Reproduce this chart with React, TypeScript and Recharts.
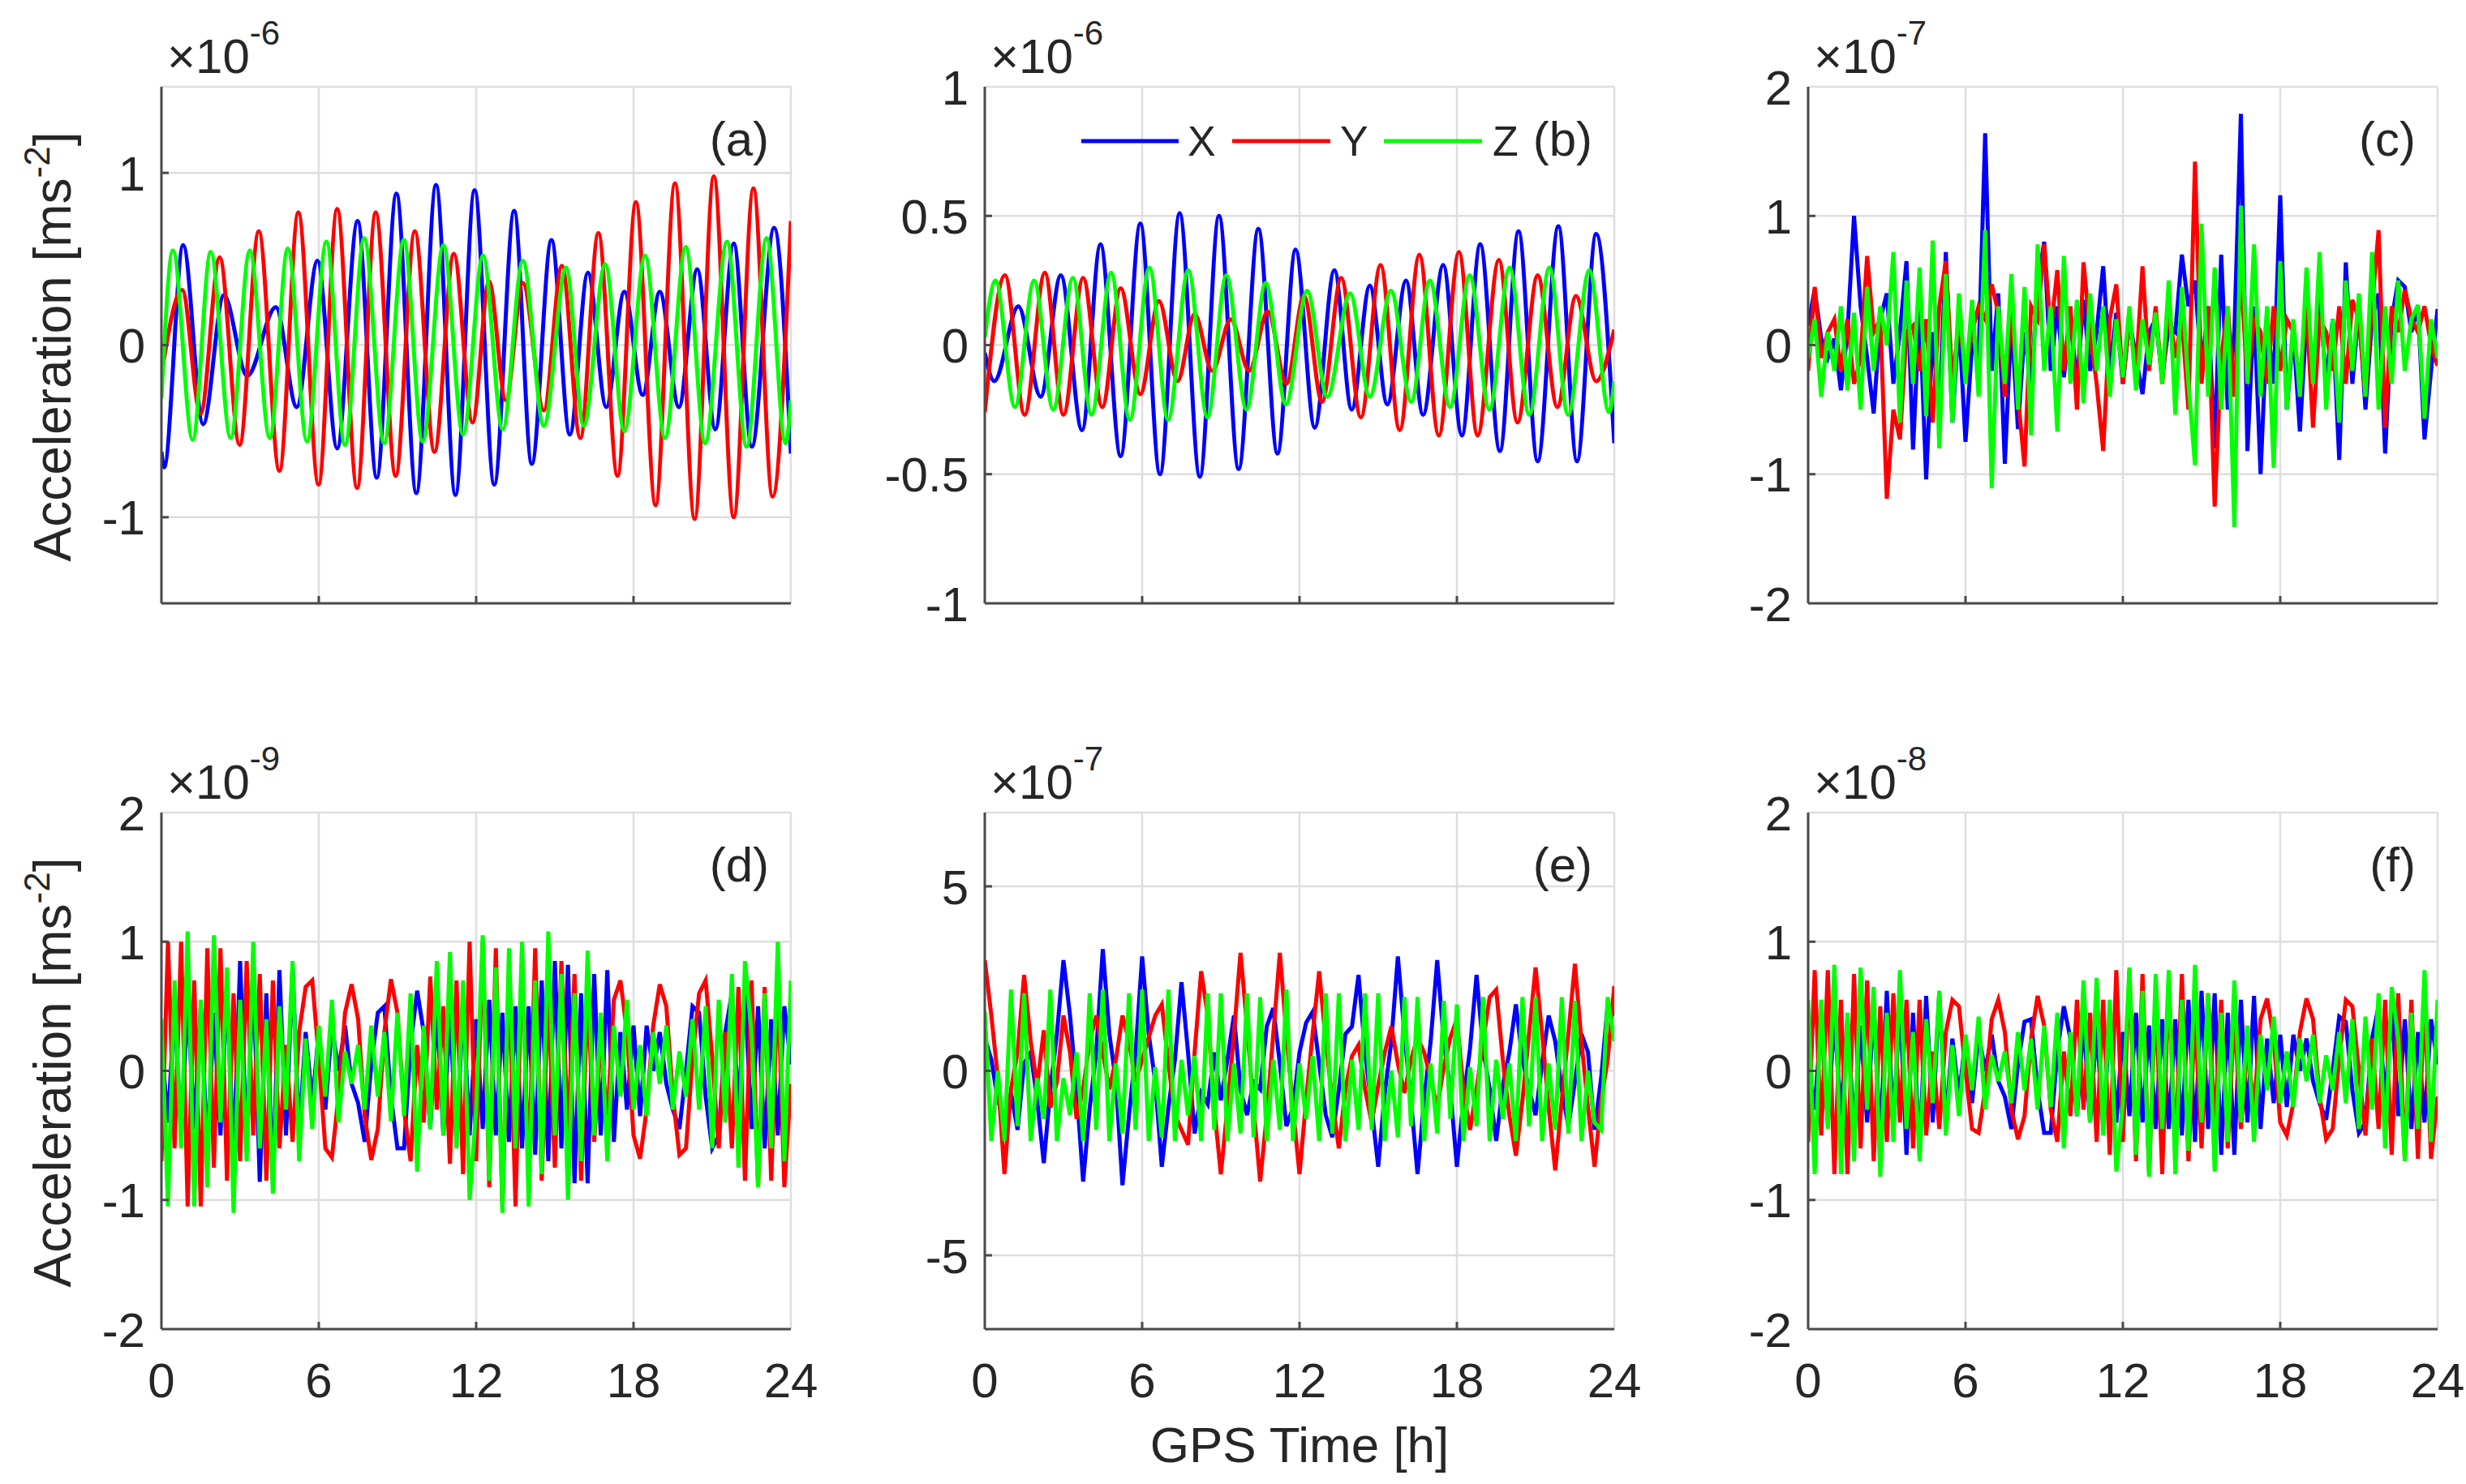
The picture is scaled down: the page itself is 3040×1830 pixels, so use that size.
import React from 'react';
import { LineChart, Line, XAxis, YAxis, CartesianGrid } from 'recharts';

const FONT = '"Liberation Sans", Arial, Helvetica, sans-serif';
const INK = '#262626';
const AXIS = '#4a4a4a';
const GRID = '#dedede';
const COLOR_X = '#0000ff';
const COLOR_Y = '#ff0000';
const COLOR_Z = '#00ff00';

// sampling times (hours) for the densely sampled panels c-f
const HOURS = Array.from({ length: 97 }, (_, i) => i / 4);
const X_TICKS = [0, 6, 12, 18, 24];

// ---------- panel (a) : x1e-6, [hour, value] at extrema ----------
const A_X: [number, number][] = [[0,-0.62],[0.1,-0.71],[0.83,0.58],[1.59,-0.46],[2.38,0.29],[3.27,-0.18],[4.36,0.22],[5.16,-0.36],[5.95,0.49],[6.7,-0.6],[7.48,0.72],[8.21,-0.77],[8.96,0.88],[9.72,-0.86],[10.47,0.93],[11.21,-0.87],[11.94,0.9],[12.69,-0.81],[13.45,0.78],[14.12,-0.69],[14.87,0.61],[15.57,-0.52],[16.26,0.42],[16.96,-0.36],[17.65,0.31],[18.35,-0.29],[19.0,0.31],[19.73,-0.36],[20.43,0.44],[21.12,-0.49],[21.82,0.59],[22.51,-0.59],[23.36,0.68],[24,-0.63]];
const A_Y: [number, number][] = [[0,-0.17],[0.79,0.32],[1.49,-0.4],[2.22,0.51],[2.98,-0.58],[3.71,0.66],[4.5,-0.73],[5.22,0.77],[5.99,-0.81],[6.7,0.79],[7.46,-0.83],[8.17,0.77],[8.93,-0.76],[9.66,0.66],[10.41,-0.62],[11.15,0.53],[11.86,-0.45],[12.49,0.37],[13.13,-0.32],[13.78,0.36],[14.58,-0.38],[15.27,0.46],[15.97,-0.54],[16.66,0.65],[17.39,-0.76],[18.09,0.83],[18.84,-0.93],[19.58,0.94],[20.33,-1.01],[21.06,0.98],[21.82,-1.0],[22.57,0.91],[23.3,-0.88],[24,0.72]];
const A_Z: [number, number][] = [[0,-0.31],[0.44,0.55],[1.19,-0.55],[1.88,0.54],[2.64,-0.54],[3.37,0.55],[4.13,-0.54],[4.82,0.56],[5.55,-0.56],[6.29,0.6],[7.0,-0.58],[7.73,0.62],[8.49,-0.57],[9.24,0.61],[9.96,-0.56],[10.75,0.58],[11.5,-0.52],[12.26,0.52],[13.01,-0.49],[13.78,0.49],[14.58,-0.47],[15.43,0.45],[16.1,-0.47],[16.92,0.47],[17.65,-0.5],[18.44,0.52],[19.2,-0.54],[19.99,0.57],[20.73,-0.57],[21.56,0.6],[22.31,-0.59],[23.07,0.62],[23.8,-0.57],[24,-0.32]];

// ---------- panel (b) : x1e-6 ----------
const B_X: [number, number][] = [[0,-0.03],[0.36,-0.14],[1.28,0.15],[2.13,-0.2],[2.9,0.27],[3.71,-0.33],[4.41,0.39],[5.18,-0.43],[5.93,0.47],[6.68,-0.5],[7.43,0.51],[8.2,-0.51],[8.93,0.5],[9.68,-0.48],[10.43,0.45],[11.16,-0.42],[11.85,0.37],[12.58,-0.32],[13.33,0.29],[13.99,-0.25],[14.68,0.23],[15.35,-0.23],[16.06,0.25],[16.71,-0.27],[17.48,0.31],[18.19,-0.35],[18.89,0.39],[19.64,-0.41],[20.35,0.44],[21.08,-0.45],[21.87,0.46],[22.58,-0.45],[23.31,0.43],[24,-0.38]];
const B_Y: [number, number][] = [[0,-0.26],[0.77,0.27],[1.52,-0.27],[2.29,0.28],[3.0,-0.27],[3.75,0.26],[4.48,-0.24],[5.18,0.22],[5.93,-0.19],[6.64,0.17],[7.35,-0.14],[8.0,0.12],[8.67,-0.1],[9.38,0.1],[10.08,-0.1],[10.79,0.13],[11.5,-0.15],[12.17,0.19],[12.86,-0.22],[13.59,0.26],[14.34,-0.28],[15.09,0.31],[15.82,-0.33],[16.57,0.35],[17.31,-0.35],[18.08,0.36],[18.79,-0.35],[19.6,0.33],[20.31,-0.3],[21.08,0.27],[21.83,-0.24],[22.54,0.19],[23.31,-0.14],[24,0.06]];
const B_Z: [number, number][] = [[0,0.03],[0.41,0.25],[1.15,-0.24],[1.88,0.25],[2.61,-0.25],[3.36,0.26],[4.07,-0.27],[4.82,0.28],[5.53,-0.29],[6.28,0.3],[6.99,-0.29],[7.76,0.29],[8.49,-0.28],[9.21,0.27],[9.98,-0.25],[10.71,0.24],[11.48,-0.23],[12.29,0.21],[13.06,-0.2],[13.93,0.2],[14.68,-0.2],[15.49,0.21],[16.26,-0.22],[16.97,0.25],[17.74,-0.24],[18.49,0.27],[19.24,-0.25],[20.01,0.3],[20.76,-0.27],[21.53,0.3],[22.24,-0.27],[23.05,0.29],[23.8,-0.26],[24,-0.14]];

// ---------- panel (c) : x1e-7, one value every 15 min ----------
const C_X = [
  0.15, 0.43, 0.05, -0.1, 0.05, -0.35, 0.1, 1.0,
  0.3, -0.1, -0.53, 0.2, 0.4, -0.3, 0.1, 0.65,
  -0.81, 0.3, -1.04, 0.1, -0.55, 0.72, -0.6, 0.2,
  -0.75, 0.0, -0.1, 1.64, -0.2, 0.4, -0.92, 0.2,
  -0.65, 0.1, -0.3, 0.45, 0.8, -0.2, 0.3, -0.25,
  0.2, -0.3, 0.35, -0.2, 0.1, 0.61, -0.2, 0.25,
  -0.3, 0.2, -0.1, -0.38, 0.1, 0.2, -0.25, 0.15,
  0.1, 0.7, 0.3, 0.5, -0.2, 0.3, -0.8, 0.7,
  -0.5, 0.1, 1.79, -0.82, 0.3, -1.0, 0.2, -0.3,
  1.16, -0.5, 0.1, -0.67, 0.2, -0.2, 0.4, -0.3,
  0.2, -0.89, 0.64, -0.3, 0.3, -0.5, 0.2, 0.4,
  -0.84, 0.2, 0.5, 0.45, 0.1, 0.3, -0.73, -0.2,
  0.28,
];
const C_Y = [
  -0.2, 0.45, -0.1, 0.1, 0.2, -0.2, 0.2, -0.3,
  -0.1, 0.69, 0.1, 0.2, -1.19, -0.5, -0.73, 0.1,
  0.15, -0.2, 0.2, -0.6, 0.3, 0.65, -0.3, 0.2,
  -0.2, 0.1, 0.3, 0.2, 0.47, 0.25, -0.4, 0.3,
  -0.4, -0.94, 0.3, 0.2, 0.78, 0.1, 0.58, -0.2,
  0.3, -0.5, 0.64, 0.1, -0.3, -0.82, 0.2, 0.47,
  -0.3, 0.2, -0.2, 0.61, -0.2, 0.3, -0.3, 0.3,
  -0.1, 0.2, -0.5, 1.42, -0.3, 0.3, -1.25, -0.1,
  0.3, -0.4, 0.56, -0.3, 0.2, 0.1, -0.3, 0.3,
  -0.2, 0.2, 0.1, -0.3, 0.3, -0.64, 0.2, 0.1,
  -0.2, 0.3, -0.3, 0.35, 0.2, -0.4, 0.3, 0.89,
  -0.64, 0.3, 0.1, 0.43, 0.2, 0.1, 0.3, 0.0,
  -0.16,
];
const C_Z = [
  -0.1, 0.2, -0.4, 0.1, -0.2, 0.3, -0.35, 0.25,
  -0.5, 0.45, -0.2, 0.3, 0.0, 0.72, -0.6, 0.5,
  -0.3, 0.6, -0.55, 0.81, -0.8, 0.55, -0.6, 0.4,
  -0.3, 0.35, -0.4, 0.89, -1.11, 0.3, -0.3, 0.55,
  -0.5, 0.45, -0.7, 0.78, -0.2, 0.3, -0.67, 0.69,
  -0.3, 0.35, -0.45, 0.4, -0.2, 0.3, -0.4, 0.2,
  -0.25, 0.3, -0.35, 0.2, -0.15, 0.25, -0.3, 0.5,
  -0.54, 0.45, -0.3, -0.93, 0.94, -0.4, 0.6, -0.5,
  0.3, -1.41, 1.08, -0.3, 0.78, -0.4, 0.3, -0.95,
  0.65, -0.5, 0.2, -0.4, 0.6, -0.3, 0.72, -0.5,
  0.2, -0.6, 0.5, -0.2, 0.4, -0.4, 0.72, -0.5,
  0.3, -0.3, 0.5, -0.2, 0.2, 0.31, -0.57, 0.2,
  -0.1,
];

// ---------- panel (d) : x1e-9 ----------
const D_X = [
  0.2, -0.4, 0.5, -0.5, 0.55, -0.45, 0.5, -0.6,
  0.45, -0.5, 0.65, -0.7, 0.85, -0.6, 0.75, -0.86,
  0.6, -0.88, 0.78, -0.5, 0.8, -0.5, 0.3, -0.25,
  0.3, -0.3, 0.35, 0.0, 0.35, -0.1, -0.25, -0.55,
  0.05, 0.45, 0.5, -0.2, -0.6, -0.6, 0.2, 0.62,
  0.3, -0.45, 0.5, -0.5, 0.45, -0.55, 0.5, -0.5,
  0.4, -0.45, 0.55, -0.5, 0.45, -0.55, 0.5, -0.6,
  0.5, -0.65, 0.7, -0.7, 0.85, -0.6, 0.82, -0.87,
  0.6, -0.87, 0.75, -0.5, 0.78, -0.55, 0.3, -0.3,
  0.35, -0.35, 0.35, 0.0, 0.3, -0.1, -0.3, -0.45,
  0.0, 0.5, 0.45, -0.2, -0.6, -0.5, 0.3, 0.6,
  -0.3, 0.6, -0.45, 0.5, -0.6, 0.4, -0.5, 0.5,
  0.05,
];
const D_Y = [
  -0.7, 1.0, -0.6, 1.0, -1.05, 0.7, -1.05, 0.95,
  -0.75, 0.95, -0.85, 0.6, -0.7, 0.85, -0.5, 0.75,
  -0.85, 0.7, -0.6, 0.2, -0.55, 0.3, 0.65, 0.7,
  0.1, -0.6, -0.67, -0.2, 0.45, 0.67, 0.4, -0.35,
  -0.69, -0.45, 0.3, 0.71, 0.45, -0.3, -0.7, 0.2,
  -0.4, 0.73, -0.3, 0.5, -0.72, 0.7, -0.8, 1.0,
  -0.7, 1.0, -0.9, 0.95, -1.05, 0.75, -1.05, 0.9,
  -0.8, 0.95, -0.85, 0.6, -0.75, 0.85, -0.5, 0.75,
  -0.85, 0.6, -0.55, 0.25, -0.4, 0.55, 0.7, 0.3,
  -0.5, -0.68, -0.3, 0.35, 0.67, 0.5, -0.2, -0.65,
  -0.6, 0.1, 0.6, 0.7, 0.1, -0.6, 0.3, -0.6,
  0.65, -0.85, 0.7, -0.9, 0.65, -0.85, 0.7, -0.9,
  -0.1,
];
const D_Z = [
  0.4, -1.05, 0.7, -0.6, 1.08, -1.05, 0.55, -0.9,
  1.05, -0.4, 0.8, -1.1, 0.55, -0.7, 1.0, -0.6,
  0.4, -0.95, 0.5, -0.3, 0.85, -0.7, 0.25, -0.45,
  0.35, -0.2, 0.55, -0.4, 0.15, -0.1, 0.2, -0.3,
  0.35, -0.2, 0.3, -0.39, 0.45, -0.35, 0.6, -0.78,
  0.35, -0.45, 0.85, -0.5, 0.92, -0.6, 0.7, -1.0,
  -0.3, 1.05, -0.85, 0.8, -1.1, 0.95, -0.6, 1.0,
  -1.05, 0.7, -0.8, 1.08, -0.5, 0.75, -1.0, 0.6,
  -0.7, 0.93, -0.5, 0.45, -0.7, 0.35, -0.2, 0.55,
  -0.3, 0.2, -0.35, 0.3, -0.1, 0.35, -0.3, 0.15,
  -0.2, 0.4, -0.3, 0.5, -0.6, 0.55, -0.4, 0.75,
  -0.75, 0.85, 0.3, -0.9, 0.6, -0.6, 1.0, -0.7,
  0.7,
];

// ---------- panel (e) : x1e-7 ----------
const E_X = [
  0.9, 0.3, -0.8, -1.3, -0.6, -1.6, 0.2, 0.5,
  -0.8, -2.5, -0.5, 1.0, 3.0, 1.5, -0.5, -3.0,
  -1.0, 0.5, 3.3, 1.0, -0.3, -3.1, -1.2, 0.5,
  3.1, 1.0, -0.3, -2.6, -1.0, 0.3, 2.4, 0.5,
  -1.7, -0.6, -0.9, 0.5, -0.8, 0.3, 1.5, -0.5,
  -1.2, -0.3, -0.5, 1.2, 1.7, 0.2, -1.5, -1.0,
  0.5, 1.3, 1.6, 0.2, -1.2, -1.8, -0.5, 1.0,
  1.2, 2.6, 0.5, -1.0, -2.6, -0.6, 0.8, 3.1,
  1.0, -0.8, -2.8, -0.8, 0.8, 3.0, 0.8, -0.5,
  -2.6, -0.8, 0.6, 2.6, 0.6, -0.5, -1.9, -0.4,
  0.5, 1.8, 0.3, -0.5, -1.2, 0.2, 1.5, 0.8,
  -0.5, -1.5, -0.3, 1.0, 0.5, -1.6, -0.2, 1.8,
  1.5,
];
const E_Y = [
  3.0, 1.5, -0.2, -2.8, -0.5, 0.5, 2.6, 0.8,
  -0.4, 1.1, -1.0, -0.3, 1.5, 0.5, -1.3, -0.5,
  0.8, 1.5, 0.5, -0.5, 0.3, 1.5, 0.8, -0.3,
  0.3, 0.9, 1.5, 1.8, 0.2, -1.2, -1.6, -2.0,
  0.5, 2.7, 1.5, -1.0, -2.8, -1.0, 1.0, 3.2,
  1.2, -1.0, -3.0, -1.2, 1.0, 3.2, 1.0, -1.0,
  -2.8, -0.8, 1.0, 2.7, 0.8, -0.8, -2.1, -0.5,
  0.4, 0.7, -0.5, -1.4, -0.4, 0.5, 1.2, 0.2,
  -0.6, 0.3, 0.9, 0.5, -0.2, -1.0, 0.1, 0.9,
  1.4, -0.5, -1.6, -0.5, 0.8, 2.0, 2.2, 0.3,
  -1.2, -2.3, -0.8, 1.0, 2.8, 1.0, -1.0, -2.7,
  -0.8, 1.0, 2.9, 0.8, -1.0, -2.6, -0.8, 0.3,
  2.3,
];
const E_Z = [
  1.6, -1.9, 0.0, -1.9, 2.2, -1.5, 2.1, -1.9,
  -0.2, -1.3, 2.2, -1.9, -0.2, -1.2, 0.5, -1.9,
  2.1, -1.6, 2.2, -1.9, 0.2, -1.7, 2.1, -1.6,
  2.2, -1.9, 0.1, -1.8, 2.2, -1.9, 0.3, -1.2,
  0.4, -1.9, 2.1, -1.6, 2.1, -1.9, 0.2, -1.7,
  2.1, -1.8, 2.0, -1.9, 0.3, -1.6, 2.2, -1.9,
  0.2, -1.3, 0.4, -1.9, 2.1, -1.7, 2.1, -1.9,
  0.3, -1.6, 2.1, -1.6, 2.1, -1.9, 0.0, -1.8,
  2.0, -1.5, 2.0, -1.9, 0.2, -1.7, 1.9, -1.3,
  1.8, -1.9, 0.1, -1.5, 2.0, -1.9, 0.3, -1.3,
  0.2, -1.9, 2.0, -1.5, 2.0, -1.9, 0.2, -1.6,
  2.0, -1.7, 1.9, -1.9, 0.0, -1.4, -1.6, 2.0,
  0.8,
];

// ---------- panel (f) : x1e-8 ----------
const F_X = [
  0.05, -0.3, 0.4, -0.4, 0.42, -0.35, 0.4, -0.45,
  0.35, -0.4, 0.5, -0.55, 0.62, -0.45, 0.55, -0.65,
  0.45, -0.65, 0.58, -0.4, 0.6, -0.4, 0.25, -0.2,
  0.25, -0.25, 0.28, 0.0, 0.28, -0.08, -0.2, -0.45,
  0.05, 0.38, 0.4, -0.15, -0.48, -0.48, 0.15, 0.5,
  0.25, -0.35, 0.4, -0.4, 0.35, -0.45, 0.4, -0.4,
  0.3, -0.35, 0.45, -0.4, 0.35, -0.45, 0.4, -0.45,
  0.4, -0.5, 0.55, -0.55, 0.62, -0.45, 0.6, -0.65,
  0.45, -0.65, 0.55, -0.4, 0.58, -0.45, 0.25, -0.25,
  0.28, -0.28, 0.28, 0.0, 0.25, -0.08, -0.25, -0.38,
  0.0, 0.42, 0.38, -0.15, -0.48, -0.4, 0.25, 0.5,
  -0.25, 0.5, -0.35, 0.4, -0.45, 0.3, -0.4, 0.4,
  0.05,
];
const F_Y = [
  -0.55, 0.78, -0.5, 0.78, -0.8, 0.55, -0.8, 0.75,
  -0.6, 0.7, -0.7, 0.5, -0.55, 0.6, -0.4, 0.55,
  -0.6, 0.55, -0.5, 0.15, -0.45, 0.3, 0.55, 0.5,
  0.0, -0.45, -0.48, -0.15, 0.4, 0.55, 0.3, -0.3,
  -0.53, -0.35, 0.25, 0.58, 0.35, -0.3, -0.55, 0.15,
  -0.35, 0.55, -0.3, 0.45, -0.55, 0.55, -0.65, 0.78,
  -0.55, 0.78, -0.7, 0.75, -0.8, 0.6, -0.8, 0.7,
  -0.65, 0.75, -0.7, 0.45, -0.6, 0.6, -0.45, 0.55,
  -0.6, 0.45, -0.45, 0.2, -0.3, 0.4, 0.56, 0.25,
  -0.4, -0.5, -0.25, 0.3, 0.56, 0.4, -0.2, -0.53,
  -0.45, 0.1, 0.55, 0.5, 0.0, -0.5, 0.25, -0.45,
  0.55, -0.65, 0.6, -0.7, 0.55, -0.68, 0.55, -0.68,
  -0.2,
];
const F_Z = [
  0.55, -0.8, 0.55, -0.45, 0.82, -0.8, 0.45, -0.7,
  0.8, -0.3, 0.65, -0.82, 0.45, -0.55, 0.78, -0.45,
  0.3, -0.7, 0.4, -0.25, 0.62, -0.5, 0.2, -0.35,
  0.28, -0.15, 0.42, -0.3, 0.12, -0.08, 0.15, -0.25,
  0.3, -0.15, 0.25, -0.3, 0.35, -0.28, 0.45, -0.6,
  0.3, -0.35, 0.7, -0.4, 0.72, -0.5, 0.55, -0.78,
  -0.25, 0.8, -0.65, 0.62, -0.82, 0.75, -0.45, 0.78,
  -0.8, 0.55, -0.62, 0.82, -0.4, 0.6, -0.78, 0.45,
  -0.55, 0.7, -0.4, 0.35, -0.55, 0.28, -0.15, 0.42,
  -0.25, 0.15, -0.28, 0.25, -0.08, 0.28, -0.25, 0.12,
  -0.15, 0.3, -0.25, 0.4, -0.45, 0.42, -0.3, 0.6,
  -0.6, 0.65, 0.25, -0.7, 0.45, -0.45, 0.78, -0.55,
  0.55,
];

type Row = { t: number; v: number };
const fromPairs = (pairs: [number, number][]): Row[] => pairs.map(([t, v]) => ({ t, v }));
const fromGrid = (vals: number[]): Row[] => vals.map((v, i) => ({ t: HOURS[i], v }));

type PanelSpec = {
  id: string;
  left: number;
  top: number;
  exp: string;
  domain: [number, number];
  ticks: number[];
  curve: 'monotone' | 'linear';
  x: Row[];
  y: Row[];
  z: Row[];
  showXLabels: boolean;
};

const PLOT_W = 776;
const PLOT_H = 637;
const COL_LEFT = [199, 1214, 2229];
const ROW_TOP = [107, 1002];

const PANELS: PanelSpec[] = [
  { id: 'a', left: COL_LEFT[0], top: ROW_TOP[0], exp: '-6', domain: [-1.5, 1.5], ticks: [-1, 0, 1], curve: 'monotone', x: fromPairs(A_X), y: fromPairs(A_Y), z: fromPairs(A_Z), showXLabels: false },
  { id: 'b', left: COL_LEFT[1], top: ROW_TOP[0], exp: '-6', domain: [-1, 1], ticks: [-1, -0.5, 0, 0.5, 1], curve: 'monotone', x: fromPairs(B_X), y: fromPairs(B_Y), z: fromPairs(B_Z), showXLabels: false },
  { id: 'c', left: COL_LEFT[2], top: ROW_TOP[0], exp: '-7', domain: [-2, 2], ticks: [-2, -1, 0, 1, 2], curve: 'linear', x: fromGrid(C_X), y: fromGrid(C_Y), z: fromGrid(C_Z), showXLabels: false },
  { id: 'd', left: COL_LEFT[0], top: ROW_TOP[1], exp: '-9', domain: [-2, 2], ticks: [-2, -1, 0, 1, 2], curve: 'linear', x: fromGrid(D_X), y: fromGrid(D_Y), z: fromGrid(D_Z), showXLabels: true },
  { id: 'e', left: COL_LEFT[1], top: ROW_TOP[1], exp: '-7', domain: [-7, 7], ticks: [-5, 0, 5], curve: 'linear', x: fromGrid(E_X), y: fromGrid(E_Y), z: fromGrid(E_Z), showXLabels: true },
  { id: 'f', left: COL_LEFT[2], top: ROW_TOP[1], exp: '-8', domain: [-2, 2], ticks: [-2, -1, 0, 1, 2], curve: 'linear', x: fromGrid(F_X), y: fromGrid(F_Y), z: fromGrid(F_Z), showXLabels: true },
];

const YW = 190;
const MT = 50;
const MR = 50;
const XH = 110;
const TICK_FONT = 60;
const LINE_W = 5;

const makeXTick = (show: boolean) => (props: any) => {
  const { x, y, payload } = props;
  const v = payload.value;
  return (
    <g>
      {v !== 0 && v !== 24 ? <line x1={x} x2={x} y1={y} y2={y - 9} stroke={AXIS} strokeWidth={3} /> : null}
      {show ? (
        <text x={x} y={y + 84} textAnchor="middle" fontSize={TICK_FONT} fill={INK} fontFamily={FONT}>
          {String(v)}
        </text>
      ) : null}
    </g>
  );
};

const makeYTick = (domain: [number, number]) => (props: any) => {
  const { x, y, payload } = props;
  const v = payload.value;
  const edge = v === domain[0] || v === domain[1];
  return (
    <g>
      {!edge ? <line x1={x} x2={x + 9} y1={y} y2={y} stroke={AXIS} strokeWidth={3} /> : null}
      <text x={x - 20} y={y} dy="0.36em" textAnchor="end" fontSize={TICK_FONT} fill={INK} fontFamily={FONT}>
        {String(v)}
      </text>
    </g>
  );
};

function Panel({ p }: { p: PanelSpec }) {
  return (
    <div style={{ position: 'absolute', left: p.left - YW, top: p.top - MT }}>
      <LineChart width={YW + PLOT_W + MR} height={MT + PLOT_H + XH} margin={{ top: MT, right: MR, bottom: 0, left: 0 }}>
        <CartesianGrid stroke={GRID} strokeWidth={2.5} />
        <XAxis
          dataKey="t"
          type="number"
          domain={[0, 24]}
          ticks={X_TICKS}
          allowDataOverflow
          interval={0}
          height={XH}
          axisLine={{ stroke: AXIS, strokeWidth: 3 }}
          tickLine={false}
          tickSize={0}
          tickMargin={0}
          tick={makeXTick(p.showXLabels)}
        />
        <YAxis
          type="number"
          domain={p.domain}
          ticks={p.ticks}
          allowDataOverflow
          interval={0}
          width={YW}
          axisLine={{ stroke: AXIS, strokeWidth: 3 }}
          tickLine={false}
          tickSize={0}
          tickMargin={0}
          tick={makeYTick(p.domain)}
        />
        <Line data={p.x} dataKey="v" name="X" type={p.curve} stroke={COLOR_X} strokeWidth={LINE_W} dot={false} activeDot={false} isAnimationActive={false} />
        <Line data={p.y} dataKey="v" name="Y" type={p.curve} stroke={COLOR_Y} strokeWidth={LINE_W} dot={false} activeDot={false} isAnimationActive={false} />
        <Line data={p.z} dataKey="v" name="Z" type={p.curve} stroke={COLOR_Z} strokeWidth={LINE_W} dot={false} activeDot={false} isAnimationActive={false} />
      </LineChart>
    </div>
  );
}

const LEGEND_ITEMS = [
  { label: 'X', color: COLOR_X, x1: 1333, x2: 1453, tx: 1464 },
  { label: 'Y', color: COLOR_Y, x1: 1519, x2: 1640, tx: 1652 },
  { label: 'Z', color: COLOR_Z, x1: 1706, x2: 1827, tx: 1840 },
];

function Overlay() {
  return (
    <svg width={3040} height={1830} style={{ position: 'absolute', left: 0, top: 0, pointerEvents: 'none' }} fontFamily={FONT}>
      {PANELS.map((p) => (
        <g key={p.id}>
          <text x={p.left + 7} y={p.top - 17} fontSize={60} fill={INK}>
            ×10<tspan dy={-35} fontSize={42}>{p.exp}</tspan>
          </text>
          <text x={p.left + PLOT_W - 27} y={p.top + 85} textAnchor="end" fontSize={60} fill={INK}>
            ({p.id})
          </text>
        </g>
      ))}
      {ROW_TOP.map((top) => (
        <text key={top} transform={`translate(87, ${top + PLOT_H / 2 + 2}) rotate(-90)`} textAnchor="middle" fontSize={64} fill={INK}>
          Acceleration [ms<tspan dy={-26} fontSize={44}>-2</tspan><tspan dy={26}>]</tspan>
        </text>
      ))}
      <text x={COL_LEFT[1] + PLOT_W / 2} y={1803} textAnchor="middle" fontSize={62} fill={INK}>
        GPS Time [h]
      </text>
      {LEGEND_ITEMS.map((it) => (
        <g key={it.label}>
          <line x1={it.x1} x2={it.x2} y1={174} y2={174} stroke={it.color} strokeWidth={LINE_W} />
          <text x={it.tx} y={192} fontSize={52} fill={INK}>
            {it.label}
          </text>
        </g>
      ))}
    </svg>
  );
}

export default function App() {
  return (
    <div style={{ position: 'absolute', left: 0, top: 0, width: 3040, height: 1830, background: '#ffffff', overflow: 'hidden', fontFamily: FONT }}>
      {PANELS.map((p) => (
        <Panel key={p.id} p={p} />
      ))}
      <Overlay />
    </div>
  );
}
